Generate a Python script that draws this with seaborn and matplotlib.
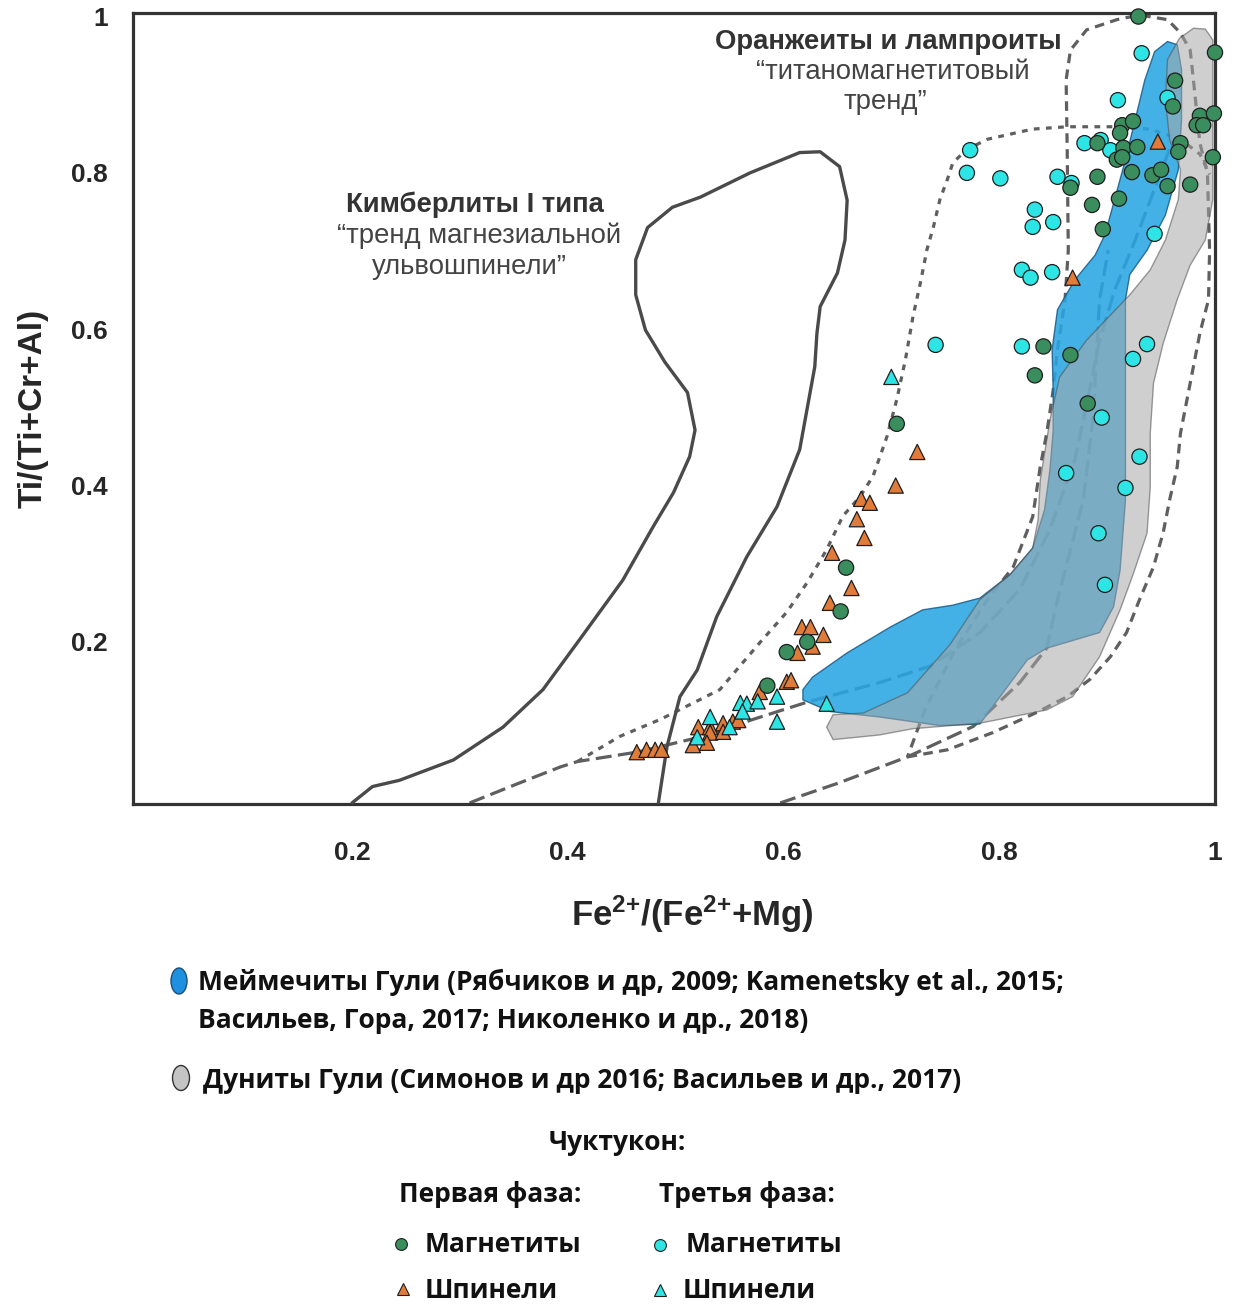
import matplotlib
matplotlib.use("Agg")
import numpy as np
import pandas as pd
import matplotlib.pyplot as plt
import seaborn as sns
from matplotlib.patches import Polygon, Ellipse
from matplotlib.lines import Line2D
from matplotlib import font_manager

# --- данные ---
# Кимберлиты I типа (контур)
kimb_x = [0.200, 0.219, 0.244, 0.294, 0.340, 0.377, 0.411, 0.451, 0.479, 0.498, 0.513, 0.518,
          0.511, 0.490, 0.472, 0.463, 0.463, 0.474, 0.497, 0.523, 0.569, 0.615, 0.634, 0.652,
          0.659, 0.657, 0.650, 0.634, 0.631, 0.629, 0.615, 0.594, 0.566, 0.538, 0.520, 0.504,
          0.492, 0.484]
kimb_y = [-0.006, 0.015, 0.023, 0.049, 0.091, 0.139, 0.203, 0.279, 0.347, 0.391, 0.437, 0.471,
          0.519, 0.558, 0.599, 0.644, 0.689, 0.730, 0.756, 0.769, 0.800, 0.826, 0.827, 0.808,
          0.765, 0.714, 0.672, 0.629, 0.595, 0.552, 0.446, 0.373, 0.309, 0.232, 0.164, 0.130,
          0.066, -0.006]

# Меймечиты Гули (поле)
meim_x = [0.618, 0.627, 0.659, 0.699, 0.729, 0.757, 0.782, 0.810, 0.831, 0.842, 0.847, 0.850,
          0.850, 0.849, 0.854, 0.870, 0.889, 0.898, 0.907, 0.917, 0.926, 0.935, 0.944, 0.956,
          0.965, 0.969, 0.969, 0.966, 0.954, 0.937, 0.921, 0.917, 0.917, 0.917, 0.912, 0.906,
          0.893, 0.844, 0.826, 0.782, 0.745, 0.689, 0.643, 0.618]
meim_y = [0.139, 0.155, 0.186, 0.219, 0.241, 0.247, 0.256, 0.286, 0.320, 0.369, 0.420, 0.471,
          0.522, 0.574, 0.625, 0.663, 0.695, 0.721, 0.766, 0.817, 0.868, 0.919, 0.955, 0.968,
          0.964, 0.932, 0.868, 0.804, 0.746, 0.701, 0.670, 0.638, 0.510, 0.382, 0.292, 0.245,
          0.212, 0.192, 0.177, 0.095, 0.093, 0.104, 0.111, 0.126]

# Дуниты Гули (поле)
dun_x = [0.967, 0.980, 0.991, 0.998, 0.998, 0.998, 0.991, 0.977, 0.965, 0.952, 0.943, 0.940,
         0.940, 0.937, 0.924, 0.912, 0.893, 0.868, 0.844, 0.782, 0.720, 0.689, 0.646, 0.640,
         0.646, 0.674, 0.715, 0.754, 0.782, 0.810, 0.831, 0.836, 0.838, 0.847, 0.856, 0.881,
         0.903, 0.921, 0.940, 0.954, 0.966, 0.968, 0.958, 0.954, 0.956]
dun_y = [0.972, 0.985, 0.984, 0.970, 0.868, 0.766, 0.714, 0.682, 0.638, 0.582, 0.531, 0.467,
         0.398, 0.339, 0.286, 0.241, 0.181, 0.130, 0.113, 0.096, 0.089, 0.081, 0.075, 0.091,
         0.107, 0.109, 0.135, 0.196, 0.254, 0.286, 0.320, 0.356, 0.407, 0.484, 0.539, 0.586,
         0.618, 0.644, 0.676, 0.714, 0.766, 0.804, 0.842, 0.893, 0.945]

# пунктирные контуры и тренды
dot_x = [0.409, 0.448, 0.486, 0.541, 0.578, 0.603, 0.622, 0.640, 0.655, 0.671, 0.683, 0.696,
         0.705, 0.713, 0.720, 0.727, 0.733, 0.739, 0.745, 0.752, 0.757, 0.770, 0.789, 0.831,
         0.863, 0.905, 0.940, 0.968, 0.986, 0.995]
dot_y = [0.047, 0.079, 0.101, 0.139, 0.199, 0.238, 0.276, 0.318, 0.361, 0.386, 0.412, 0.463,
         0.510, 0.561, 0.616, 0.660, 0.702, 0.731, 0.766, 0.792, 0.813, 0.830, 0.843, 0.856,
         0.859, 0.859, 0.856, 0.843, 0.824, 0.798]

lamp_x = [0.715, 0.752, 0.794, 0.835, 0.863, 0.884, 0.903, 0.918, 0.930, 0.943, 0.952, 0.958,
          0.965, 0.968, 0.977, 0.986, 0.994, 0.995, 0.993, 0.986, 0.980, 0.977, 0.968, 0.956,
          0.930, 0.909, 0.881, 0.866, 0.862, 0.863, 0.864, 0.861, 0.854, 0.850, 0.844, 0.838,
          0.831, 0.813, 0.789, 0.759, 0.731, 0.715]
lamp_y = [0.053, 0.062, 0.084, 0.110, 0.130, 0.152, 0.181, 0.212, 0.254, 0.296, 0.340, 0.382,
          0.424, 0.467, 0.531, 0.595, 0.638, 0.701, 0.800, 0.838, 0.919, 0.957, 0.979, 0.996,
          1.002, 0.996, 0.983, 0.957, 0.919, 0.829, 0.701, 0.638, 0.574, 0.522, 0.467, 0.424,
          0.360, 0.296, 0.254, 0.190, 0.113, 0.053]

trend_x = [0.309, 0.356, 0.393, 0.409, 0.464, 0.525, 0.572, 0.622, 0.689, 0.736, 0.782, 0.819,
           0.847, 0.870, 0.882, 0.893, 0.907, 0.926, 0.946, 0.961]
trend_y = [-0.006, 0.020, 0.040, 0.047, 0.059, 0.079, 0.101, 0.123, 0.148, 0.169, 0.212, 0.267,
           0.344, 0.433, 0.510, 0.586, 0.650, 0.714, 0.787, 0.842]

trend2_x = [0.597, 0.652, 0.715, 0.776, 0.819, 0.844, 0.854, 0.866, 0.878, 0.887, 0.893, 0.901]
trend2_y = [-0.006, 0.020, 0.053, 0.092, 0.148, 0.192, 0.254, 0.318, 0.382, 0.488, 0.638, 0.701]

# Чуктукон, первая фаза: магнетиты
mag1_x = [0.929, 1.000, 0.963, 0.961, 0.986, 0.999, 0.983, 0.989, 0.914, 0.924, 0.912, 0.891,
          0.915, 0.928, 0.909, 0.914, 0.968, 0.966, 0.998, 0.923, 0.942, 0.950, 0.956, 0.977,
          0.891, 0.866, 0.886, 0.911, 0.896, 0.841, 0.866, 0.833, 0.882, 0.705, 0.658, 0.653,
          0.622, 0.603, 0.585]
mag1_y = [1.000, 0.954, 0.918, 0.885, 0.873, 0.876, 0.861, 0.861, 0.861, 0.866, 0.851, 0.838,
          0.832, 0.833, 0.817, 0.820, 0.838, 0.827, 0.820, 0.801, 0.797, 0.804, 0.783, 0.785,
          0.795, 0.781, 0.759, 0.767, 0.728, 0.578, 0.567, 0.541, 0.505, 0.479, 0.295, 0.239,
          0.200, 0.187, 0.144]

# первая фаза: шпинели
sp1_x = [0.947, 0.868, 0.724, 0.704, 0.672, 0.680, 0.668, 0.675, 0.645, 0.663, 0.643, 0.617,
         0.625, 0.637, 0.627, 0.613, 0.603, 0.607, 0.578, 0.521, 0.532, 0.544, 0.553, 0.558,
         0.532, 0.544, 0.529, 0.516, 0.464, 0.473, 0.481, 0.487]
sp1_y = [0.840, 0.666, 0.443, 0.400, 0.383, 0.378, 0.357, 0.333, 0.314, 0.269, 0.250, 0.219,
         0.219, 0.209, 0.194, 0.186, 0.149, 0.151, 0.136, 0.091, 0.091, 0.096, 0.098, 0.100,
         0.084, 0.085, 0.071, 0.068, 0.059, 0.062, 0.062, 0.062]

# третья фаза: магнетиты
mag3_x = [0.932, 0.910, 0.956, 0.773, 0.770, 0.801, 0.854, 0.867, 0.879, 0.894, 0.903, 0.833,
          0.831, 0.850, 0.944, 0.821, 0.829, 0.849, 0.741, 0.821, 0.937, 0.924, 0.895, 0.930,
          0.862, 0.917, 0.892, 0.898]
mag3_y = [0.953, 0.893, 0.896, 0.829, 0.800, 0.793, 0.795, 0.787, 0.838, 0.842, 0.829, 0.753,
          0.731, 0.737, 0.722, 0.676, 0.666, 0.673, 0.580, 0.578, 0.581, 0.562, 0.487, 0.437,
          0.416, 0.397, 0.339, 0.273]

# третья фаза: шпинели
sp3_x = [0.700, 0.594, 0.560, 0.566, 0.576, 0.562, 0.594, 0.532, 0.550, 0.520, 0.640]
sp3_y = [0.539, 0.130, 0.122, 0.121, 0.124, 0.111, 0.098, 0.104, 0.091, 0.078, 0.121]

xticks = [0.2, 0.4, 0.6, 0.8, 1.0]
xtick_labels = ["0.2", "0.4", "0.6", "0.8", "1"]
yticks = [0.2, 0.4, 0.6, 0.8, 1.0]
ytick_labels = ["0.2", "0.4", "0.6", "0.8", "1"]

groups = ["Первая фаза: Магнетиты", "Первая фаза: Шпинели",
          "Третья фаза: Магнетиты", "Третья фаза: Шпинели"]
colors = {groups[0]: "#3a8d5c", groups[1]: "#e07b3a", groups[2]: "#2ee5e5", groups[3]: "#2ee5e5"}
markers = {groups[0]: "o", groups[1]: "^", groups[2]: "o", groups[3]: "^"}

df = pd.concat([
    pd.DataFrame({"x": sp1_x, "y": sp1_y, "g": groups[1]}),
    pd.DataFrame({"x": sp3_x, "y": sp3_y, "g": groups[3]}),
    pd.DataFrame({"x": mag3_x, "y": mag3_y, "g": groups[2]}),
    pd.DataFrame({"x": mag1_x, "y": mag1_y, "g": groups[0]}),
], ignore_index=True)

sns.set_theme(style="white")
plt.rcParams["font.family"] = ["Liberation Sans", "DejaVu Sans"]
plt.rcParams["mathtext.default"] = "regular"

names = {f.name for f in font_manager.fontManager.ttflist}
if "Liberation Sans Narrow" in names:
    leg_font, leg_size, leg_big = ["Liberation Sans Narrow", "DejaVu Sans"], 23, 23
else:
    leg_font, leg_size, leg_big = ["Open Sans", "DejaVu Sans"], 19, 19

fig = plt.figure(figsize=(12.34, 13.06), dpi=100)
ax = fig.add_axes([0.1078, 0.3844, 0.8768, 0.6057])

line_col = "#5f5f5f"
ax.plot(dot_x, dot_y, color=line_col, lw=2.3, ls=(0, (1.8, 2.0)), zorder=1)
ax.plot(lamp_x, lamp_y, color=line_col, lw=2.3, ls=(0, (3.0, 2.0)), zorder=1)
ax.plot(trend_x, trend_y, color=line_col, lw=2.3, ls=(0, (5.0, 2.0)), zorder=1)
ax.plot(trend2_x, trend2_y, color=line_col, lw=2.3, ls=(0, (5.0, 2.0)), zorder=1)

ax.add_patch(Polygon(np.column_stack([meim_x, meim_y]), closed=True, facecolor="#29a6e2",
                     edgecolor="#1d5f8c", lw=1.0, alpha=0.88, zorder=2))
ax.add_patch(Polygon(np.column_stack([dun_x, dun_y]), closed=True, facecolor="#a8a8a8",
                     edgecolor="#505050", lw=1.0, alpha=0.55, zorder=3))

ax.plot(kimb_x, kimb_y, color="#4a4a4a", lw=2.4, zorder=4, solid_capstyle="round",
        solid_joinstyle="round")

sns.scatterplot(data=df, x="x", y="y", hue="g", style="g", palette=colors, markers=markers,
                s=120, edgecolor="#1e1e1e", linewidth=0.9, legend=False, ax=ax,
                clip_on=False, zorder=6)

ann = 19.8
ax.text(0.314, 0.759, "Кимберлиты I типа", ha="center", va="center", fontsize=ann,
        fontweight="bold", color="#333333")
ax.text(0.318, 0.719, "“тренд магнезиальной", ha="center", va="center", fontsize=ann,
        color="#444444")
ax.text(0.309, 0.679, "ульвошпинели”", ha="center", va="center", fontsize=ann, color="#444444")
ax.text(0.697, 0.968, "Оранжеиты и лампроиты", ha="center", va="center", fontsize=ann,
        fontweight="bold", color="#333333")
ax.text(0.701, 0.929, "“титаномагнетитовый", ha="center", va="center", fontsize=ann,
        color="#444444")
ax.text(0.694, 0.891, "тренд”", ha="center", va="center", fontsize=ann, color="#444444")

ax.set_xlim(-0.003, 1.0)
ax.set_ylim(-0.0073, 1.0046)
ax.set_xticks(xticks)
ax.set_xticklabels(xtick_labels, fontsize=19, fontweight="bold")
ax.set_yticks(yticks)
ax.set_yticklabels(ytick_labels, fontsize=19, fontweight="bold")
ax.tick_params(axis="both", direction="in", length=7, width=2, color="#222222")
ax.tick_params(axis="x", pad=27)
ax.tick_params(axis="y", pad=18)
for sp in ax.spines.values():
    sp.set_linewidth(2.3)
    sp.set_color("#333333")
    sp.set_visible(True)

ax.set_xlabel("Fe$^{2{+}}$/(Fe$^{2{+}}$+Mg)", fontsize=25, fontweight="bold", va="center")
ax.xaxis.set_label_coords(0.517, -0.140)
ax.set_ylabel("Ti/(Ti+Cr+Al)", fontsize=24, fontweight="bold", va="center")
ax.yaxis.set_label_coords(-0.092, 0.50)


def fx(px):
    return px / 1234


def fy(py):
    return 1 - py / 1306


fig.add_artist(Ellipse((fx(179), fy(981)), 16 / 1234, 26 / 1306, transform=fig.transFigure,
                       facecolor="#1f8fe0", edgecolor="#1a4f7a", lw=1.0))
fig.add_artist(Ellipse((fx(181), fy(1078)), 17 / 1234, 25 / 1306, transform=fig.transFigure,
                       facecolor="#c4c4c4", edgecolor="#333333", lw=1.0))
leg_kw = dict(fontfamily=leg_font, fontweight="bold", color="#111111", va="center")
fig.text(fx(198), fy(982), "Меймечиты Гули (Рябчиков и др, 2009; Kamenetsky et al., 2015;",
         fontsize=leg_size, ha="left", **leg_kw)
fig.text(fx(198), fy(1021), "Васильев, Гора, 2017; Николенко и др., 2018)",
         fontsize=leg_size, ha="left", **leg_kw)
fig.text(fx(203), fy(1080), "Дуниты Гули (Симонов и др 2016; Васильев и др., 2017)",
         fontsize=leg_size, ha="left", **leg_kw)
fig.text(fx(617), fy(1142), "Чуктукон:", fontsize=leg_big, ha="center", **leg_kw)
fig.text(fx(490), fy(1195), "Первая фаза:", fontsize=leg_big, ha="center", **leg_kw)
fig.text(fx(747), fy(1195), "Третья фаза:", fontsize=leg_big, ha="center", **leg_kw)
fig.text(fx(425), fy(1245), "Магнетиты", fontsize=leg_big, ha="left", **leg_kw)
fig.text(fx(686), fy(1245), "Магнетиты", fontsize=leg_big, ha="left", **leg_kw)
fig.text(fx(425), fy(1290), "Шпинели", fontsize=leg_big, ha="left", **leg_kw)
fig.text(fx(683), fy(1290), "Шпинели", fontsize=leg_big, ha="left", **leg_kw)

for (px, py), g in zip([(401, 1244), (403, 1289), (660, 1245), (660, 1290)], groups):
    fig.add_artist(Line2D([fx(px)], [fy(py)], marker=markers[g], ms=8.5, color=colors[g],
                          markeredgecolor="#1e1e1e", markeredgewidth=0.8, ls="none",
                          transform=fig.transFigure))

fig.savefig("out.png", dpi=100)
